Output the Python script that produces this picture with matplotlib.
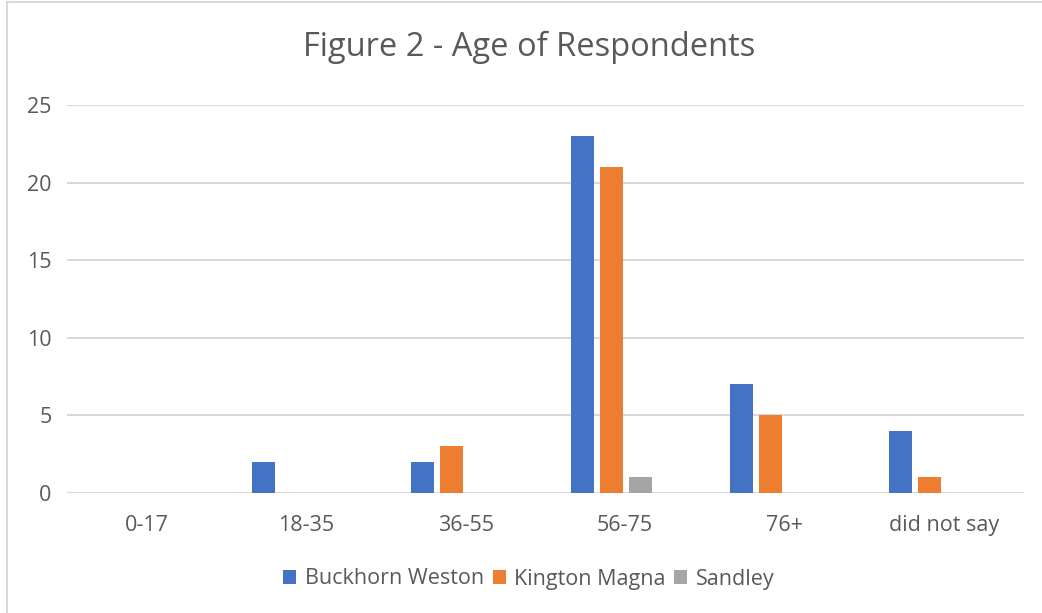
import numpy as np
import matplotlib
matplotlib.use("Agg")
import matplotlib.pyplot as plt
from matplotlib.patches import Rectangle

# data
age_groups = ["0-17", "18-35", "36-55", "56-75", "76+", "did not say"]
buckhorn_weston = [0, 2, 2, 23, 7, 4]
kington_magna = [0, 0, 3, 21, 5, 1]
sandley = [0, 0, 0, 1, 0, 0]

series = [
    ("Buckhorn Weston", buckhorn_weston, "#4472C4"),
    ("Kington Magna", kington_magna, "#ED7D31"),
    ("Sandley", sandley, "#A5A5A5"),
]

plt.rcParams["font.family"] = ["Open Sans", "DejaVu Sans"]
text_col = "#595959"
grid_col = "#D9D9D9"

fig = plt.figure(figsize=(10.42, 6.13), dpi=100)
ax = fig.add_axes([67 / 1042, 1 - 493 / 613, 956.7 / 1042, (493 - 105) / 613])

# chart area border (cut at right/bottom like the source)
fig.patches.append(Rectangle((7 / 1042, -0.1), 1.2, 1.1 - 2 / 613, transform=fig.transFigure,
                             fill=False, edgecolor=grid_col, linewidth=1.5))

x = np.arange(len(age_groups))
width = 0.144
pitch = 0.182
shift = -0.088  # bars sit a bit left of the labels in the original

for i, (name, vals, col) in enumerate(series):
    ax.bar(x + shift + (i - 1) * pitch, vals, width, color=col, label=name, zorder=3)

ax.set_xlim(-0.5, len(age_groups) - 0.5)
ax.set_ylim(0, 25)
ax.set_yticks(range(0, 26, 5))
ax.set_xticks(x)
ax.set_xticklabels(age_groups)
ax.yaxis.grid(True, color=grid_col, linewidth=1.5, zorder=0)
ax.set_axisbelow(True)
for s in ax.spines.values():
    s.set_visible(False)
ax.tick_params(axis="both", length=0, labelsize=15.5, colors=text_col)
ax.tick_params(axis="x", pad=16)
ax.tick_params(axis="y", pad=11)

fig.text(529 / 1042, 1 - 47 / 613, "Figure 2 - Age of Respondents", ha="center", va="center",
         fontsize=23.5, color=text_col)

fig.legend(loc="center", bbox_to_anchor=(529 / 1042, 1 - 579 / 613), ncol=3, frameon=False,
           fontsize=15.5, labelcolor=text_col, handlelength=0.6, handleheight=0.6,
           handletextpad=0.4, columnspacing=0.4)

fig.savefig("out.png", dpi=100, facecolor="white")
